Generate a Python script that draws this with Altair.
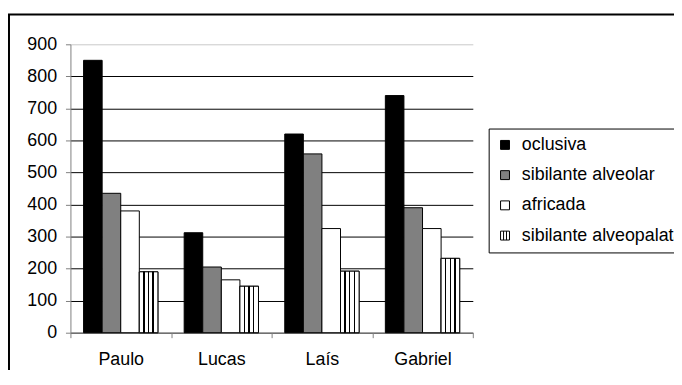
import altair as alt
import pandas as pd

# ---- data ----
people = ["Paulo", "Lucas", "Laís", "Gabriel"]
series = ["oclusiva", "sibilante alveolar", "africada", "sibilante alveopalatal"]
oclusiva = [850, 312, 620, 740]
sib_alveolar = [435, 205, 558, 390]
africada = [380, 165, 325, 325]
sib_alveopalatal = [190, 145, 192, 232]
y_ticks = [0, 100, 200, 300, 400, 500, 600, 700, 800, 900]

rows = []
for s, vals in zip(series, [oclusiva, sib_alveolar, africada, sib_alveopalatal]):
    for p, v in zip(people, vals):
        rows.append({"pessoa": p, "tipo": s, "valor": v})
df = pd.DataFrame(rows)

FONT = "Liberation Sans"
FS = 18

x_enc = alt.X(
    "pessoa:N", sort=people,
    scale=alt.Scale(domain=people, paddingInner=0, paddingOuter=0),
    axis=alt.Axis(title=None, labelAngle=0, tickBand="extent",
                  domainColor="#808080", tickColor="#808080", tickSize=5,
                  labelPadding=13, labelFontSize=FS, labelFont=FONT,
                  labelColor="black", grid=False),
)
xoff_enc = alt.XOffset("tipo:N",
                       scale=alt.Scale(domain=series, paddingInner=0, paddingOuter=0.7067))
y_enc = alt.Y(
    "valor:Q",
    scale=alt.Scale(domain=[0, 900], nice=False),
    axis=alt.Axis(title=None, values=y_ticks, grid=True,
                  gridColor={"condition": {"test": "datum.value === 900", "value": "#c8c8c8"},
                             "value": "black"},
                  gridWidth=1,
                  domainColor="#808080", tickColor="#808080", tickSize=5,
                  labelPadding=9, labelFontSize=FS, labelFont=FONT,
                  labelColor="black"),
)

legend_kw = dict(title=None, orient="none", legendX=422, legendY=85,
                 strokeColor="black", padding=7.5, symbolSize=81,
                 symbolOpacity=1, symbolStrokeWidth=1,
                 labelFontSize=FS, labelFont=FONT, labelColor="black",
                 labelLimit=400, labelOffset=8, rowPadding=12.5)

fill_enc = alt.Fill("tipo:N",
                    scale=alt.Scale(domain=series,
                                    range=["black", "#808080", "white", "white"]),
                    legend=alt.Legend(**legend_kw))
stroke_enc = alt.Stroke("tipo:N",
                        scale=alt.Scale(domain=series,
                                        range=["black", "black", "black", "black"]),
                        legend=alt.Legend(**legend_kw))
striped_symbol = "M-1,-1H1V1H-1Z M-0.33,-1V1 M0.33,-1V1"
shape_enc = alt.Shape("tipo:N",
                      scale=alt.Scale(domain=series,
                                      range=["square", "square", "square", striped_symbol]),
                      legend=alt.Legend(**legend_kw))

base = alt.Chart(df)

bars = base.mark_bar(strokeWidth=1).encode(
    x=x_enc, xOffset=xoff_enc, y=y_enc, fill=fill_enc, stroke=stroke_enc)

stops = []
for c in [0.25, 0.5, 0.75]:
    stops += [alt.GradientStop(color="white", offset=c - 0.045),
              alt.GradientStop(color="black", offset=c - 0.045),
              alt.GradientStop(color="black", offset=c + 0.035),
              alt.GradientStop(color="white", offset=c + 0.035)]
stops = [alt.GradientStop(color="white", offset=0)] + stops + [alt.GradientStop(color="white", offset=1)]
stripe_fill = alt.LinearGradient(gradient="linear", stops=stops, x1=0, x2=1, y1=0, y2=0)

stripes = base.transform_filter(alt.datum.tipo == "sibilante alveopalatal").mark_bar(
    fill=stripe_fill, stroke="black", strokeWidth=1).encode(
    x=x_enc, xOffset=xoff_enc, y=y_enc)

# hidden helper layer (drawn below the bars) that only contributes the legend shapes
legend_pts = base.mark_point(filled=True, size=0, strokeWidth=1).encode(
    x=x_enc, xOffset=xoff_enc, y=alt.value(280),
    fill=fill_enc, stroke=stroke_enc, shape=shape_enc)

frame = alt.Chart(pd.DataFrame({"f": [0]})).mark_rect(
    fillOpacity=0, stroke="black", strokeWidth=2).encode(
    x=alt.value(-62), x2=alt.value(900), y=alt.value(-30), y2=alt.value(600))

chart = alt.layer(frame, legend_pts, bars, stripes).properties(
    width=406, height=291,
    autosize=alt.AutoSizeParams(type="none"),
    padding={"left": 63, "top": 35, "right": 203, "bottom": 36},
    background="white",
).configure_view(strokeWidth=0).configure_legend(
    symbolStrokeWidth=1, symbolOpacity=1)

chart.save("out.html", embed_options={"renderer": "svg", "actions": False})
